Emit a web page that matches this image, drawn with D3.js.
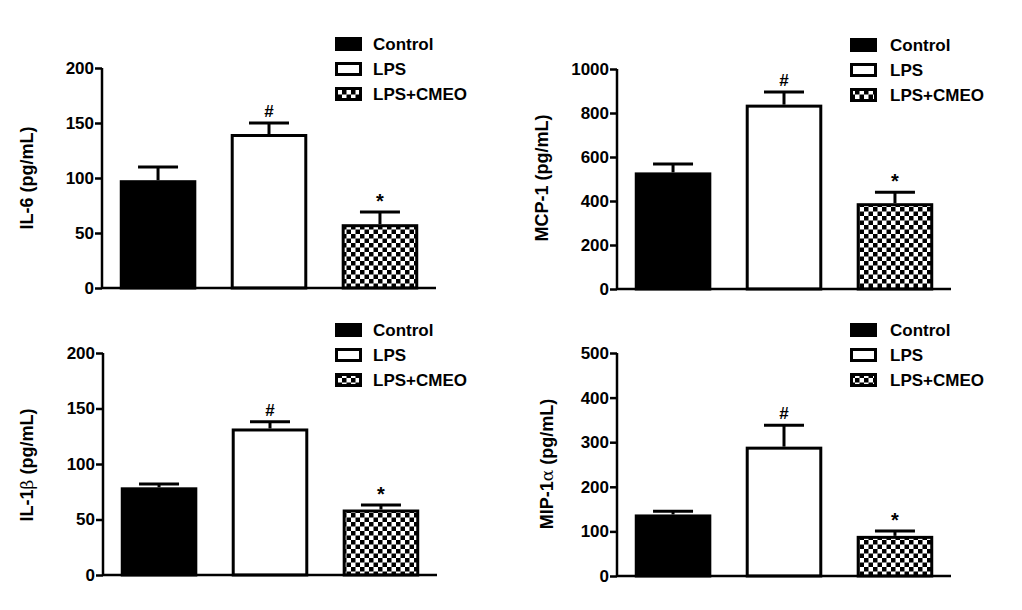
<!DOCTYPE html>
<html><head><meta charset="utf-8">
<script src="https://cdn.jsdelivr.net/npm/d3@7"></script>
<style>body{margin:0;background:#fff}svg{display:block}text{font-family:Arial,"Liberation Sans",sans-serif;font-weight:bold}</style>
</head><body>
<svg id="c" width="1022" height="610"></svg>
<script>
const categories = ["Control", "LPS", "LPS+CMEO"];
const il6Mean = [98, 140, 58];
const il6Err = [110, 150, 69];
const mcp1Mean = [530, 838, 390];
const mcp1Err = [568, 895, 440];
const il1bMean = [79, 132, 59];
const il1bErr = [82, 138, 63];
const mip1aMean = [138, 290, 90];
const mip1aErr = [145, 338, 101];
const marks = ["", "#", "*"];
const il6Ticks = [0, 50, 100, 150, 200];
const mcp1Ticks = [0, 200, 400, 600, 800, 1000];
const il1bTicks = [0, 50, 100, 150, 200];
const mip1aTicks = [0, 100, 200, 300, 400, 500];

const svg = d3.select("#c");
const defs = svg.append("defs");
const pat = defs.append("pattern").attr("id","chk").attr("patternUnits","userSpaceOnUse")
  .attr("width",9).attr("height",9);
pat.append("rect").attr("width",9).attr("height",9).attr("fill","#fff");
pat.append("rect").attr("width",4.5).attr("height",4.5).attr("fill","#000");
pat.append("rect").attr("x",4.5).attr("y",4.5).attr("width",4.5).attr("height",4.5).attr("fill","#000");
const fills = ["#000", "#fff", "url(#chk)"];

const panels = [
  {title:"IL-6", greek:null, mean:il6Mean, err:il6Err, ticks:il6Ticks, ax:102, y0:288, y1:68, tx:27, ty:178, lx:335, ly:44},
  {title:"MCP-1", greek:null, mean:mcp1Mean, err:mcp1Err, ticks:mcp1Ticks, ax:617, y0:289, y1:69, tx:542, ty:178, lx:850, ly:45},
  {title:"IL-1", greek:"β", mean:il1bMean, err:il1bErr, ticks:il1bTicks, ax:103, y0:575, y1:353, tx:27, ty:465, lx:335, ly:330},
  {title:"MIP-1", greek:"α", mean:mip1aMean, err:mip1aErr, ticks:mip1aTicks, ax:617, y0:576, y1:353, tx:547, ty:464, lx:850, ly:330}
];

panels.forEach(p => {
  const g = svg.append("g");
  const y = d3.scaleLinear().domain([0, d3.max(p.ticks)]).range([p.y0, p.y1]);
  const x = d3.scaleBand().domain(categories).range([p.ax, p.ax + 334]).paddingInner(0.31).paddingOuter(0.16);
  categories.forEach((c, i) => {
    const bx = x(c), bw = x.bandwidth();
    const top = y(p.mean[i]), et = y(p.err[i]);
    const cx = bx + bw/2;
    g.append("line").attr("x1",cx).attr("x2",cx).attr("y1",top).attr("y2",et).attr("stroke","#000").attr("stroke-width",3);
    g.append("line").attr("x1",cx-20).attr("x2",cx+20).attr("y1",et).attr("y2",et).attr("stroke","#000").attr("stroke-width",3);
    g.append("rect").attr("x",bx+1.5).attr("y",top+1.5).attr("width",bw-3).attr("height",p.y0-top-1.5)
      .attr("fill",fills[i]).attr("stroke","#000").attr("stroke-width",3);
    if (marks[i]) {
      g.append("text").attr("x",cx).attr("y",et-(marks[i]==="*"?4:6)).attr("text-anchor","middle")
        .attr("font-size",marks[i]==="*"?20:17).text(marks[i]);
    }
  });
  const ya = d3.axisLeft(y).tickValues(p.ticks).tickFormat(d3.format("d")).tickSize(7).tickPadding(1).tickSizeOuter(0);
  const ag = g.append("g").attr("transform",`translate(${p.ax},0)`).call(ya);
  ag.select(".domain").attr("stroke","#000").attr("stroke-width",2.5).attr("d",`M0,${p.y0+1}V${p.y1}`);
  ag.selectAll(".tick line").attr("stroke","#000").attr("stroke-width",2.5);
  ag.selectAll(".tick text").attr("fill","#000").attr("font-size",17).attr("font-weight","bold")
    .attr("font-family","Arial, 'Liberation Sans', sans-serif");
  g.append("line").attr("x1",p.ax).attr("x2",p.ax+334).attr("y1",p.y0).attr("y2",p.y0).attr("stroke","#000").attr("stroke-width",2.5);
  const t = g.append("text").attr("transform",`translate(${p.tx},${p.ty}) rotate(-90)`).attr("text-anchor","middle")
    .attr("dy","0.35em").attr("font-size",18);
  t.append("tspan").text(p.title);
  if (p.greek) t.append("tspan").attr("font-weight","normal").attr("font-family","'DejaVu Serif',serif").attr("font-size",17).text(p.greek);
  t.append("tspan").text(" (pg/mL)");
  categories.forEach((c, i) => {
    const ly = p.ly + i*25;
    g.append("rect").attr("x",p.lx+1.5).attr("y",ly-5.5).attr("width",24).attr("height",11)
      .attr("fill",fills[i]).attr("stroke","#000").attr("stroke-width",3);
    g.append("text").attr("x",p.lx + (p.lx>600?40:38)).attr("y",ly).attr("dy","0.36em").attr("font-size",17).text(c);
  });
});
</script>
</body></html>
